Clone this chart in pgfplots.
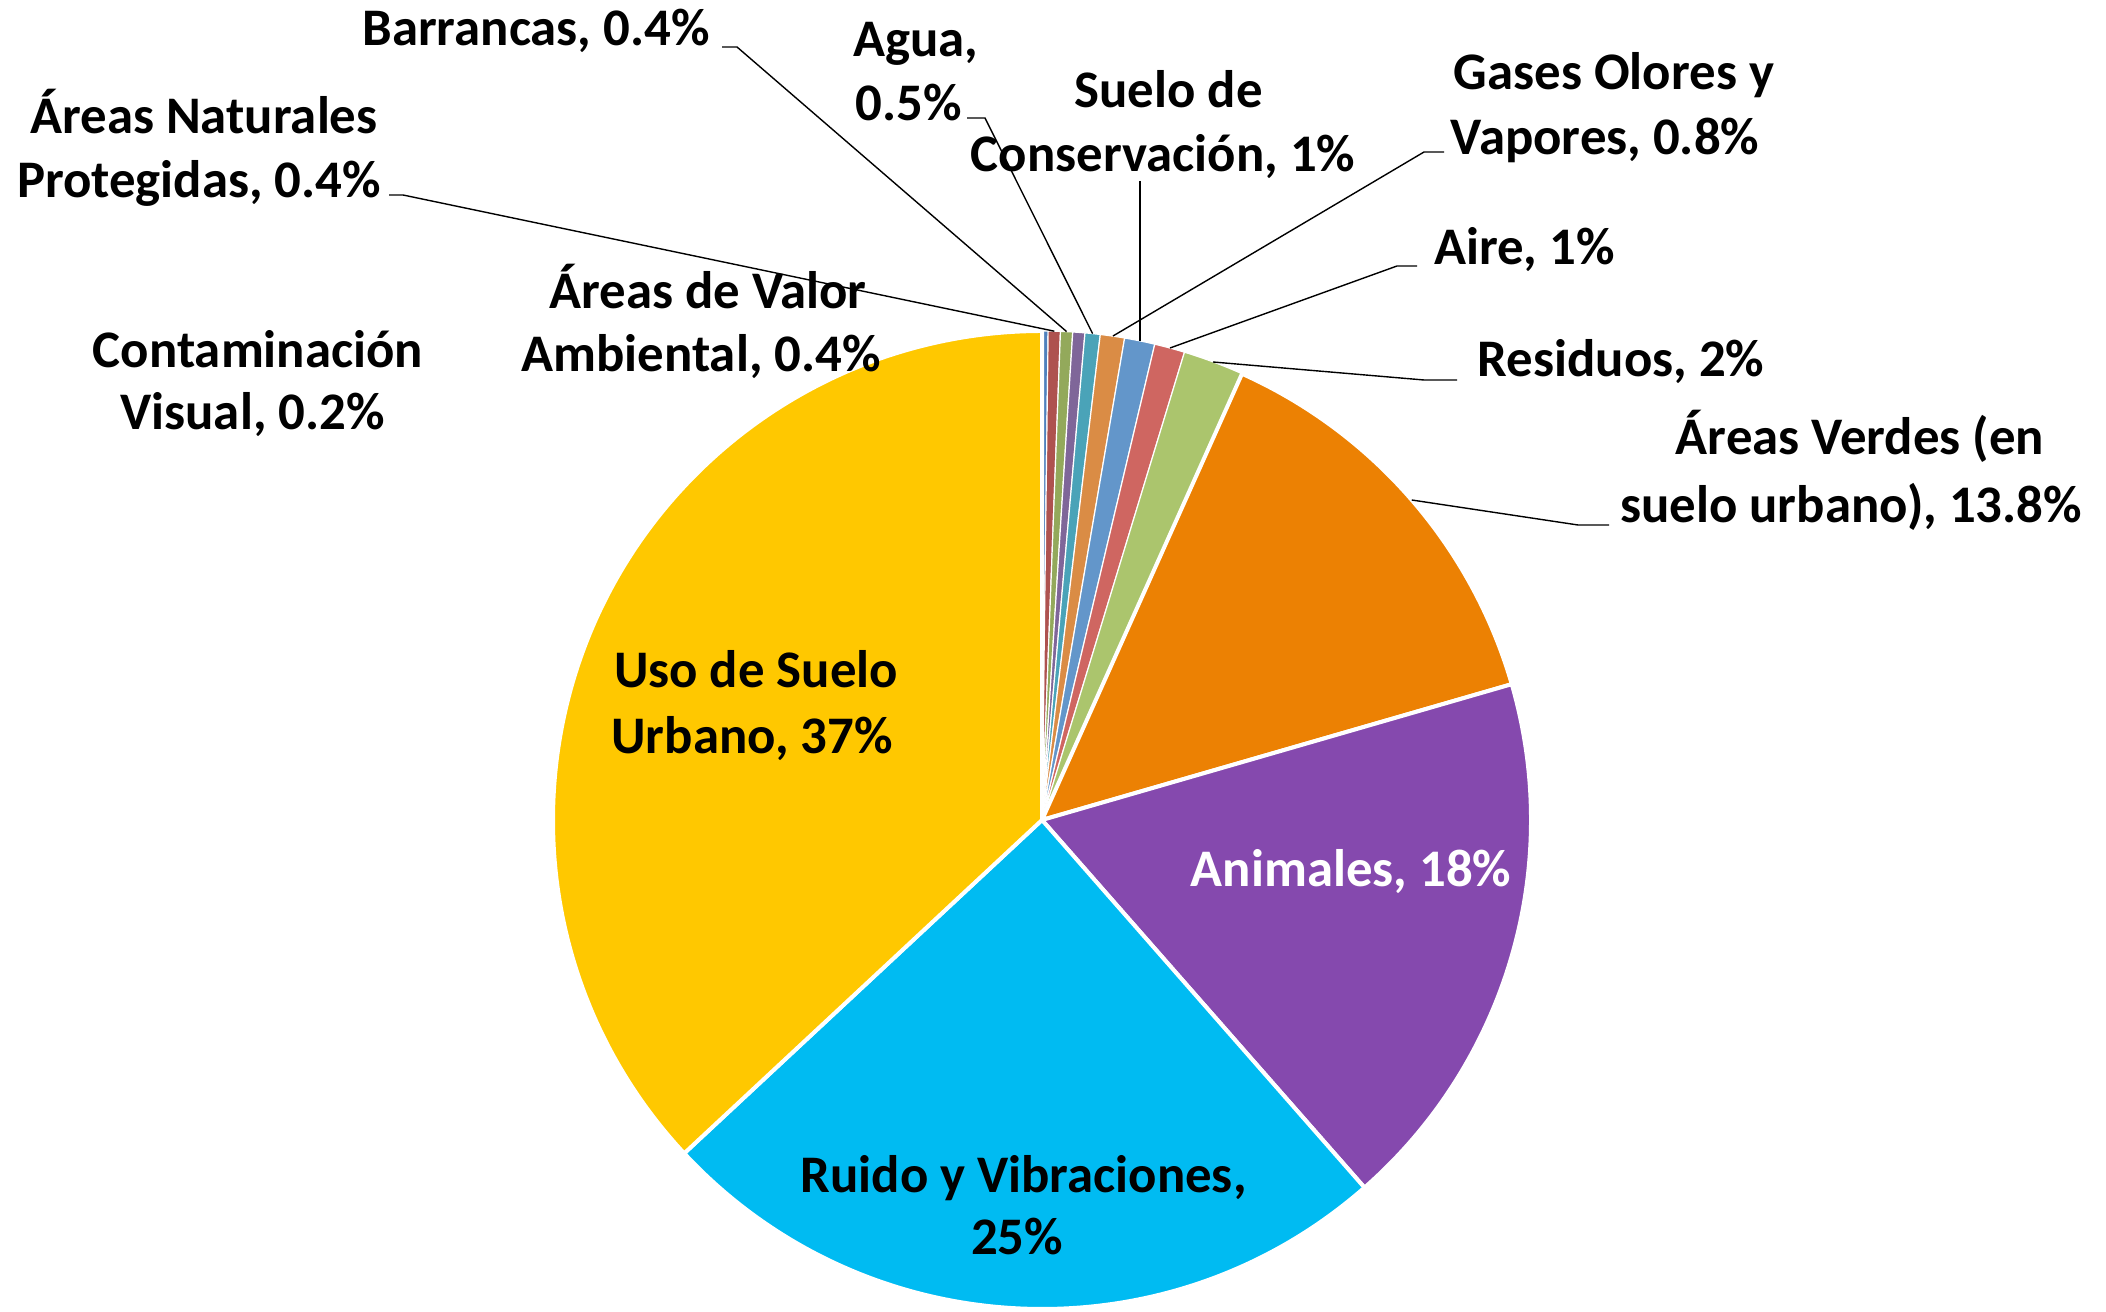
\documentclass[border=0pt]{standalone}
\usepackage{pgfplots}
\pgfplotsset{compat=1.18}
\usepackage{pgfplotstable}
\usepackage{fontspec}
\setmainfont{Carlito}

\definecolor{s0}{HTML}{4F81BD}
\definecolor{s1}{HTML}{AE524F}
\definecolor{s2}{HTML}{93A95B}
\definecolor{s3}{HTML}{7F6699}
\definecolor{s4}{HTML}{4AA3B8}
\definecolor{s5}{HTML}{DA8C45}
\definecolor{s6}{HTML}{6396CA}
\definecolor{s7}{HTML}{CF6661}
\definecolor{s8}{HTML}{ABC56D}
\definecolor{s9}{HTML}{EC8103}
\definecolor{s10}{HTML}{8549AE}
\definecolor{s11}{HTML}{00BBF2}
\definecolor{s12}{HTML}{FFC800}

% slices, clockwise from the top
% 0 Contaminacion Visual, 1 Areas Naturales Protegidas, 2 Barrancas,
% 3 Areas de Valor Ambiental, 4 Agua, 5 Gases Olores y Vapores,
% 6 Suelo de Conservacion, 7 Aire, 8 Residuos, 9 Areas Verdes,
% 10 Animales, 11 Ruido y Vibraciones, 12 Uso de Suelo Urbano
\pgfplotstableread{
value lw
0.2  0.3
0.4  0.3
0.4  0.3
0.4  0.3
0.5  0.3
0.8  0.3
1.0  0.3
1.0  0.3
2.0  0.3
13.8 1.0
18.0 1.0
24.5 1.0
36.9 1.0
}\piedata

\tikzset{lbl/.style={font=\fontsize{13.2bp}{16bp}\selectfont\bfseries, inner sep=0pt, anchor=base},
leader/.style={black, line width=0.35bp}}

\begin{document}%
\begin{tikzpicture}
\pgfplotstablegetrowsof{\piedata}
\pgfmathtruncatemacro\lastrow{\pgfplotsretval-1}
\gdef\pietotal{0}
\foreach \i in {0,...,\lastrow}{%
  \pgfplotstablegetelem{\i}{value}\of\piedata
  \pgfmathsetmacro\tmp{\pietotal+\pgfplotsretval}%
  \global\let\pietotal\tmp
}
\begin{axis}[x=0.25bp, y=0.25bp, xmin=0, xmax=2106, ymin=0, ymax=1311,
  scale only axis, hide axis, clip=false]
\path (axis cs:0,0) rectangle (axis cs:2106,1311);
\gdef\cum{0}
\pgfplotsforeachungrouped \i in {0,...,\lastrow}{%
  \pgfplotstablegetelem{\i}{value}\of\piedata
  \let\val\pgfplotsretval
  \pgfplotstablegetelem{\i}{lw}\of\piedata
  \let\lw\pgfplotsretval
  \pgfmathsetmacro\aA{90-\cum/\pietotal*360}%
  \pgfmathsetmacro\newcum{\cum+\val}%
  \pgfmathsetmacro\aB{90-\newcum/\pietotal*360}%
  \edef\slice{\noexpand\filldraw[overlay, fill=s\i, draw=white, line width=\lw bp, line join=round]
    (axis cs:1042,491) -- ++(\aA:122.25bp) arc[start angle=\aA, end angle=\aB, radius=122.25bp] -- cycle;}%
  \slice
  \global\let\cum\newcum
}

% leader lines
\draw[leader] (axis cs:389,1116) -- (axis cs:403,1116) -- (axis cs:1054.3,979.8);
\draw[leader] (axis cs:722,1264) -- (axis cs:737,1264) -- (axis cs:1066.6,979.4);
\draw[leader] (axis cs:967,1193) -- (axis cs:985,1193) -- (axis cs:1092.6,977.4);
\draw[leader] (axis cs:1140,1130) -- (axis cs:1140,970);
\draw[leader] (axis cs:1444,1159) -- (axis cs:1424,1159) -- (axis cs:1113,975);
\draw[leader] (axis cs:1417,1045) -- (axis cs:1397,1045) -- (axis cs:1170,963);
\draw[leader] (axis cs:1457,931) -- (axis cs:1424,931) -- (axis cs:1213,949);
\draw[leader] (axis cs:1609,786) -- (axis cs:1578,786) -- (axis cs:1411.7,811);

% labels
\node[lbl] at (axis cs:536,1265.3) {Barrancas, 0.4\%};
\node[lbl] at (axis cs:916,1254.6) {Agua,};
\node[lbl] at (axis cs:909,1190.1) {0.5\%};
\node[lbl] at (axis cs:1168.5,1203.5) {Suelo de};
\node[lbl] at (axis cs:1163,1139) {Conservación, 1\%};
\node[lbl] at (axis cs:1614,1221) {Gases Olores y};
\node[lbl] at (axis cs:1605,1156.5) {Vapores, 0.8\%};
\node[lbl] at (axis cs:1524.4,1046.4) {Aire, 1\%};
\node[lbl] at (axis cs:1621,934) {Residuos, 2\%};
\node[lbl] at (axis cs:1860,856) {Áreas Verdes (en};
\node[lbl] at (axis cs:1851,788.5) {suelo urbano), 13.8\%};
\node[lbl] at (axis cs:204,1177) {Áreas Naturales};
\node[lbl] at (axis cs:199,1113.6) {Protegidas, 0.4\%};
\node[lbl] at (axis cs:708,1002) {Áreas de Valor};
\node[lbl] at (axis cs:701,939) {Ambiental, 0.4\%};
\node[lbl] at (axis cs:258,943) {Contaminación};
\node[lbl] at (axis cs:252.5,881) {Visual, 0.2\%};
\node[lbl] at (axis cs:756,623.3) {Uso de Suelo};
\node[lbl] at (axis cs:752,557.5) {Urbano, 37\%};
\node[lbl, white] at (axis cs:1351,424.5) {Animales, 18\%};
\node[lbl] at (axis cs:1023.5,118.3) {Ruido y Vibraciones,};
\node[lbl] at (axis cs:1017,56.5) {25\%};
\end{axis}
\end{tikzpicture}%
\end{document}
